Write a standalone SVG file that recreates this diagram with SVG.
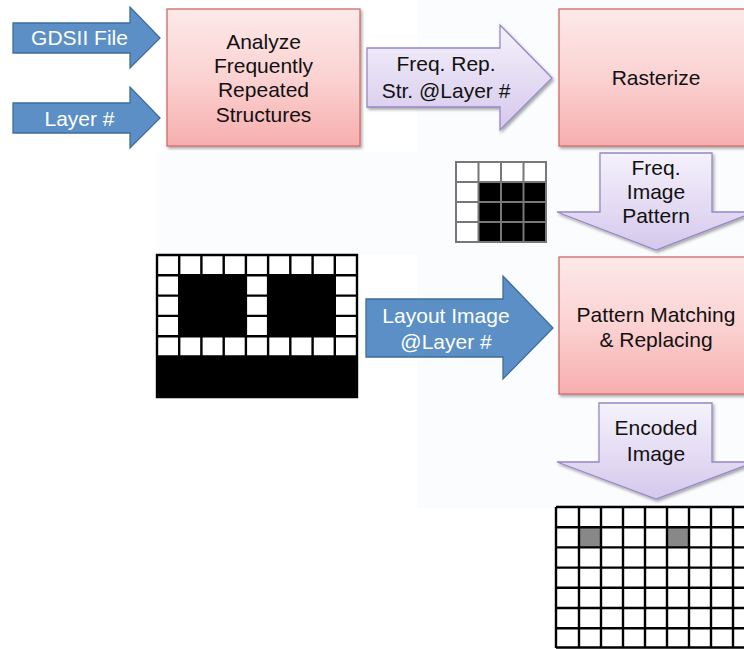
<svg xmlns="http://www.w3.org/2000/svg" width="744" height="649" viewBox="0 0 744 649">
<defs>
<linearGradient id="pink" x1="0" y1="0" x2="0" y2="1">
<stop offset="0" stop-color="#fde9e9"/>
<stop offset="0.5" stop-color="#fbd2d2"/>
<stop offset="1" stop-color="#f7aeae"/>
</linearGradient>
<linearGradient id="lav" x1="0" y1="0" x2="0" y2="1">
<stop offset="0" stop-color="#f5f2fb"/>
<stop offset="1" stop-color="#d5c8ec"/>
</linearGradient>
<filter id="sh" x="-10%" y="-10%" width="125%" height="125%">
<feDropShadow dx="1.5" dy="2" stdDeviation="1.5" flood-color="#000" flood-opacity="0.35"/>
</filter>
</defs>
<style>
.box{fill:url(#pink);stroke:#cf6b69;stroke-width:1.3;filter:url(#sh)}
.blue{fill:#5b8fc6;stroke:#3e6d9e;stroke-width:1.3}
.lav{fill:url(#lav);stroke:#9887c6;stroke-width:1.3;filter:url(#sh)}
text{font-family:"Liberation Sans",Arial,sans-serif;font-size:21px;text-anchor:middle}
.w{fill:#ffffff}
.k{fill:#111111}
.g1{stroke:#777;stroke-width:2;fill:none}
.g2{stroke:#000;stroke-width:2.4;fill:none}
</style>
<rect width="744" height="649" fill="#ffffff"/>
<path d="M417 0H744V508H417V255H158V152H417Z" fill="#fbfcfe"/>

<g id="connectors">
<g id="gdsii-arrow">
<path class="blue" d="M13 23H130V7L160 38L130 68V53H13Z"/>
<text class="w" x="79.5" y="45">GDSII File</text>
</g>
<g id="layer-arrow">
<path class="blue" d="M13 103H130V87L160 118L130 148V133H13Z"/>
<text class="w" x="79.5" y="126">Layer #</text>
</g>
<g id="freqrep-arrow">
<path class="lav" d="M367 48H500V25L552 78L500 130V107H367Z"/>
<text class="k" x="446" y="71">Freq. Rep.</text>
<text class="k" x="446" y="98">Str. @Layer #</text>
</g>
<g id="freqimg-arrow">
<path class="lav" d="M600 153H712V212H755L656 250L557 212H600Z"/>
<text class="k" x="656" y="175">Freq.</text>
<text class="k" x="656" y="199">Image</text>
<text class="k" x="656" y="223">Pattern</text>
</g>
<g id="layoutimg-arrow">
<path class="blue" d="M366 299H503V276L553 328L503 379V357H366Z"/>
<text class="w" x="446" y="323">Layout Image</text>
<text class="w" x="446" y="349">@Layer #</text>
</g>
<g id="encoded-arrow">
<path class="lav" d="M599 403H712V462H755L656 499L557 462H599Z"/>
<text class="k" x="656" y="435">Encoded</text>
<text class="k" x="656" y="461">Image</text>
</g>
</g>

<g id="analyze">
<rect class="box" x="167" y="9" width="193" height="137"/>
<text class="k" x="263.5" y="49">Analyze</text>
<text class="k" x="263.5" y="73">Frequently</text>
<text class="k" x="263.5" y="97">Repeated</text>
<text class="k" x="263.5" y="122">Structures</text>
</g>

<g id="rasterize">
<rect class="box" x="559" y="9" width="193" height="137"/>
<text class="k" x="656" y="85">Rasterize</text>
</g>

<g id="pattern-matching">
<rect class="box" x="559" y="257" width="193" height="137"/>
<text class="k" x="656" y="322">Pattern Matching</text>
<text class="k" x="656" y="347">&amp; Replacing</text>
</g>

<g id="small-grid">
<rect x="456" y="162" width="90" height="80" fill="#fff"/>
<rect x="478.5" y="182" width="67.5" height="60" fill="#000"/>
<path class="g1" d="M456 162H546V242H456Z M478.5 162V242 M501 162V242 M523.5 162V242 M456 182H546 M456 202H546 M456 222H546"/>
</g>

<g id="layout-grid">
<rect x="157" y="255" width="200" height="142" fill="#fff"/>
<path class="g2" d="M157 255H357V397H157Z M157 275.3H357 M157 295.6H357 M157 315.9H357 M157 336.2H357 M157 356.5H357 M179.2 255V357 M201.4 255V357 M223.7 255V357 M245.9 255V357 M268.1 255V357 M290.3 255V357 M312.6 255V357 M334.8 255V357"/>
<rect x="179.2" y="275.3" width="66.7" height="61" fill="#000"/>
<rect x="268.1" y="275.3" width="66.7" height="61" fill="#000"/>
<rect x="157" y="356.5" width="200" height="40.5" fill="#000"/>
</g>

<g id="encoded-grid">
<rect x="556" y="507" width="200" height="142" fill="#fff"/>
<rect x="579" y="527.2" width="22" height="20.2" fill="#888"/>
<rect x="667" y="527.2" width="22" height="20.2" fill="#888"/>
<path class="g2" d="M556 507H760 M556 527.2H760 M556 547.4H760 M556 567.6H760 M556 587.8H760 M556 608H760 M556 628.2H760 M556 647.5H760 M556 507V648 M579 507V648 M601 507V648 M623 507V648 M645 507V648 M667 507V648 M689 507V648 M711 507V648 M733 507V648"/>
</g>
</svg>
